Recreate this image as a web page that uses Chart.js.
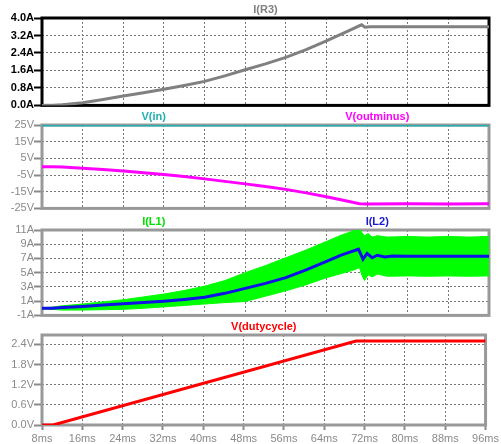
<!DOCTYPE html>
<html>
<head>
<meta charset="utf-8">
<title>Waveforms</title>
<script src="https://cdn.jsdelivr.net/npm/chart.js@4.4.1/dist/chart.umd.min.js"></script>
<style>
  body { margin: 0; background: #fff; }
  #wrap { position: relative; width: 501px; height: 444px; overflow: hidden; }
  canvas { position: absolute; left: 0; }
</style>
</head>
<body>
<div id="wrap">
  <canvas id="pR3" width="501" height="112" style="top:0px"></canvas>
  <canvas id="pV" width="501" height="103" style="top:112px"></canvas>
  <canvas id="pL" width="501" height="107" style="top:215px"></canvas>
  <canvas id="pD" width="501" height="122" style="top:322px"></canvas>
</div>
<script>
// time axis (ms)
const xMin = 8, xMax = 96, xStep = 8;

// I(R3)
const tR3 = [8, 10, 12, 16, 20, 24, 28, 32, 36, 40, 44, 48, 52, 56, 60, 64, 68, 70.9, 71.6, 72.5, 96];
const iR3 = [0, 0, 0.03, 0.12, 0.27, 0.43, 0.58, 0.74, 0.91, 1.1, 1.35, 1.63, 1.9, 2.2, 2.55, 2.95, 3.38, 3.69, 3.58, 3.6, 3.6];

// V(in) and V(outminus)
const tVin = [8, 96];
const vIn = [25, 25];
const tOut = [8, 10, 12, 16, 20, 24, 28, 32, 36, 40, 44, 48, 52, 56, 60, 64, 68, 70.5, 72, 80, 88, 96];
const vOut = [0, 0, -0.2, -0.9, -1.7, -2.6, -3.6, -4.7, -5.9, -7.3, -8.8, -10.3, -11.9, -13.6, -15.7, -18, -20.6, -22.2, -22.3, -22.2, -22.3, -22.2];

// I(L1) ripple envelope, I(L2)
const tL1 = [8, 10, 12, 16, 20, 24, 28, 32, 36, 40, 44, 48, 52, 56, 60, 64, 67, 69, 70.5, 71, 71.5, 72.2, 73, 74, 76, 80, 84, 88, 92, 96];
const iL1Hi = [0.1, 0.15, 0.35, 0.6, 0.9, 1.2, 1.6, 2.0, 2.5, 3.1, 3.9, 5.0, 6.0, 7.1, 8.2, 9.4, 10.3, 10.8, 11.4, 10.6, 10.2, 10.5, 10.0, 10.2, 10.0, 10.1, 10.0, 10.1, 10.0, 10.1];
const iL1Lo = [-0.1, -0.15, -0.25, -0.25, -0.2, -0.15, 0.0, 0.2, 0.4, 0.6, 0.8, 0.95, 1.7, 2.45, 3.3, 4.3, 4.9, 5.3, 5.7, 4.6, 3.9, 4.7, 4.4, 4.8, 4.5, 4.55, 4.5, 4.55, 4.5, 4.55];
const tL2 = [8, 10, 12, 16, 20, 24, 28, 32, 36, 40, 44, 48, 52, 56, 60, 64, 67, 68.6, 70.3, 71.2, 72, 73, 74, 75.5, 77, 80, 84, 88, 92, 96];
const iL2 = [0, 0, 0.1, 0.25, 0.45, 0.63, 0.8, 1.0, 1.25, 1.55, 2.1, 2.8, 3.5, 4.3, 5.4, 6.6, 7.5, 7.9, 8.3, 6.9, 7.7, 7.1, 7.45, 7.2, 7.35, 7.3, 7.3, 7.3, 7.3, 7.3];

// V(dutycycle)
const tDuty = [8, 10.2, 70.3, 96];
const vDuty = [0, 0, 2.5, 2.5];

function pts(t, v) {
  return t.map((x, i) => ({ x: x, y: v[i] }));
}

const FONT = '"Liberation Sans", Arial, sans-serif';

// frame around the plot area + trace names above it
const panelDecor = {
  id: 'panelDecor',
  beforeDatasetsDraw(chart, args, o) {
    const a = chart.chartArea, ctx = chart.ctx;
    ctx.save();
    ctx.strokeStyle = o.frameColor;
    ctx.lineWidth = 3;
    ctx.strokeRect(a.left, a.top, a.right - a.left, a.bottom - a.top);
    ctx.restore();
  },
  afterDraw(chart, args, o) {
    const a = chart.chartArea, ctx = chart.ctx;
    ctx.save();
    ctx.font = 'bold 11px ' + FONT;
    ctx.textAlign = 'center';
    ctx.textBaseline = 'middle';
    o.labels.forEach(l => {
      ctx.fillStyle = l.color;
      ctx.fillText(l.text, a.left + (a.right - a.left) * l.at, a.top - 8.5);
    });
    ctx.restore();
  }
};

function line(data, color, width) {
  return { data: data, borderColor: color, borderWidth: width || 3, pointRadius: 0, tension: 0, fill: false };
}

function makePanel(id, datasets, y, decor, showX, padTop) {
  const dark = decor.frameColor === '#000000';
  const tickCol = dark ? '#000000' : '#8a8a8a';
  return new Chart(document.getElementById(id), {
    type: 'line',
    data: { datasets: datasets },
    options: {
      responsive: false,
      animation: false,
      devicePixelRatio: 1,
      layout: { autoPadding: false, padding: { left: 0, right: 12, top: padTop, bottom: showX ? 0 : 5 } },
      plugins: { legend: { display: false }, tooltip: { enabled: false }, panelDecor: decor },
      scales: {
        x: {
          type: 'linear', min: xMin, max: xMax,
          ticks: { display: showX, stepSize: xStep, color: '#8a8a8a', padding: 2,
                   font: { size: 11, family: FONT }, maxRotation: 0,
                   callback: v => v + 'ms' },
          grid: { color: '#777777', drawTicks: showX, tickLength: 5, tickWidth: 2,
                  tickColor: '#8a8a8a', tickBorderDash: [] },
          border: { display: false, dash: [2, 2] },
          afterFit: s => { s.height = showX ? 19 : 0; }
        },
        y: {
          min: y.min, max: y.max,
          ticks: { stepSize: y.step, color: tickCol, padding: 0, autoSkip: false,
                   includeBounds: y.bounds !== false,
                   font: { size: 11, family: FONT, weight: dark ? 'bold' : 'normal' },
                   callback: y.fmt },
          grid: { color: '#777777', tickLength: 8, tickWidth: 2, tickColor: tickCol, tickBorderDash: [] },
          border: { display: false, dash: [2, 2] },
          afterFit: s => { s.width = 42; }
        }
      }
    },
    plugins: [panelDecor]
  });
}

makePanel('pR3',
  [line(pts(tR3, iR3), '#808080')],
  { min: 0, max: 4, step: 0.8, fmt: v => v.toFixed(1) + 'A' },
  { frameColor: '#000000', labels: [{ text: 'I(R3)', color: '#808080', at: 0.5 }] },
  false, 18);

makePanel('pV',
  [line(pts(tVin, vIn), '#20b0b0'), line(pts(tOut, vOut), '#ff00ff')],
  { min: -25, max: 25, step: 10, fmt: v => v + 'V' },
  { frameColor: '#999999', labels: [{ text: 'V(in)', color: '#20b0b0', at: 0.25 }, { text: 'V(outminus)', color: '#ff00ff', at: 0.75 }] },
  false, 13);

makePanel('pL',
  [
    line(pts(tL2, iL2), '#1010e8', 3),
    { data: pts(tL1, iL1Hi), borderColor: '#00ff00', borderWidth: 1, pointRadius: 0, fill: false },
    { data: pts(tL1, iL1Lo), borderColor: '#00ff00', borderWidth: 1, pointRadius: 0, fill: '-1', backgroundColor: '#00ff00' }
  ],
  { min: -1, max: 11, step: 2, fmt: v => v + 'A' },
  { frameColor: '#999999', labels: [{ text: 'I(L1)', color: '#00e000', at: 0.25 }, { text: 'I(L2)', color: '#1a1ad0', at: 0.75 }] },
  false, 15);

makePanel('pD',
  [line(pts(tDuty, vDuty), '#ff0000')],
  { min: 0, max: 2.68, step: 0.6, bounds: false, fmt: v => v.toFixed(1) + 'V' },
  { frameColor: '#999999', labels: [{ text: 'V(dutycycle)', color: '#ff0000', at: 0.5 }] },
  true, 13);
</script>
</body>
</html>
